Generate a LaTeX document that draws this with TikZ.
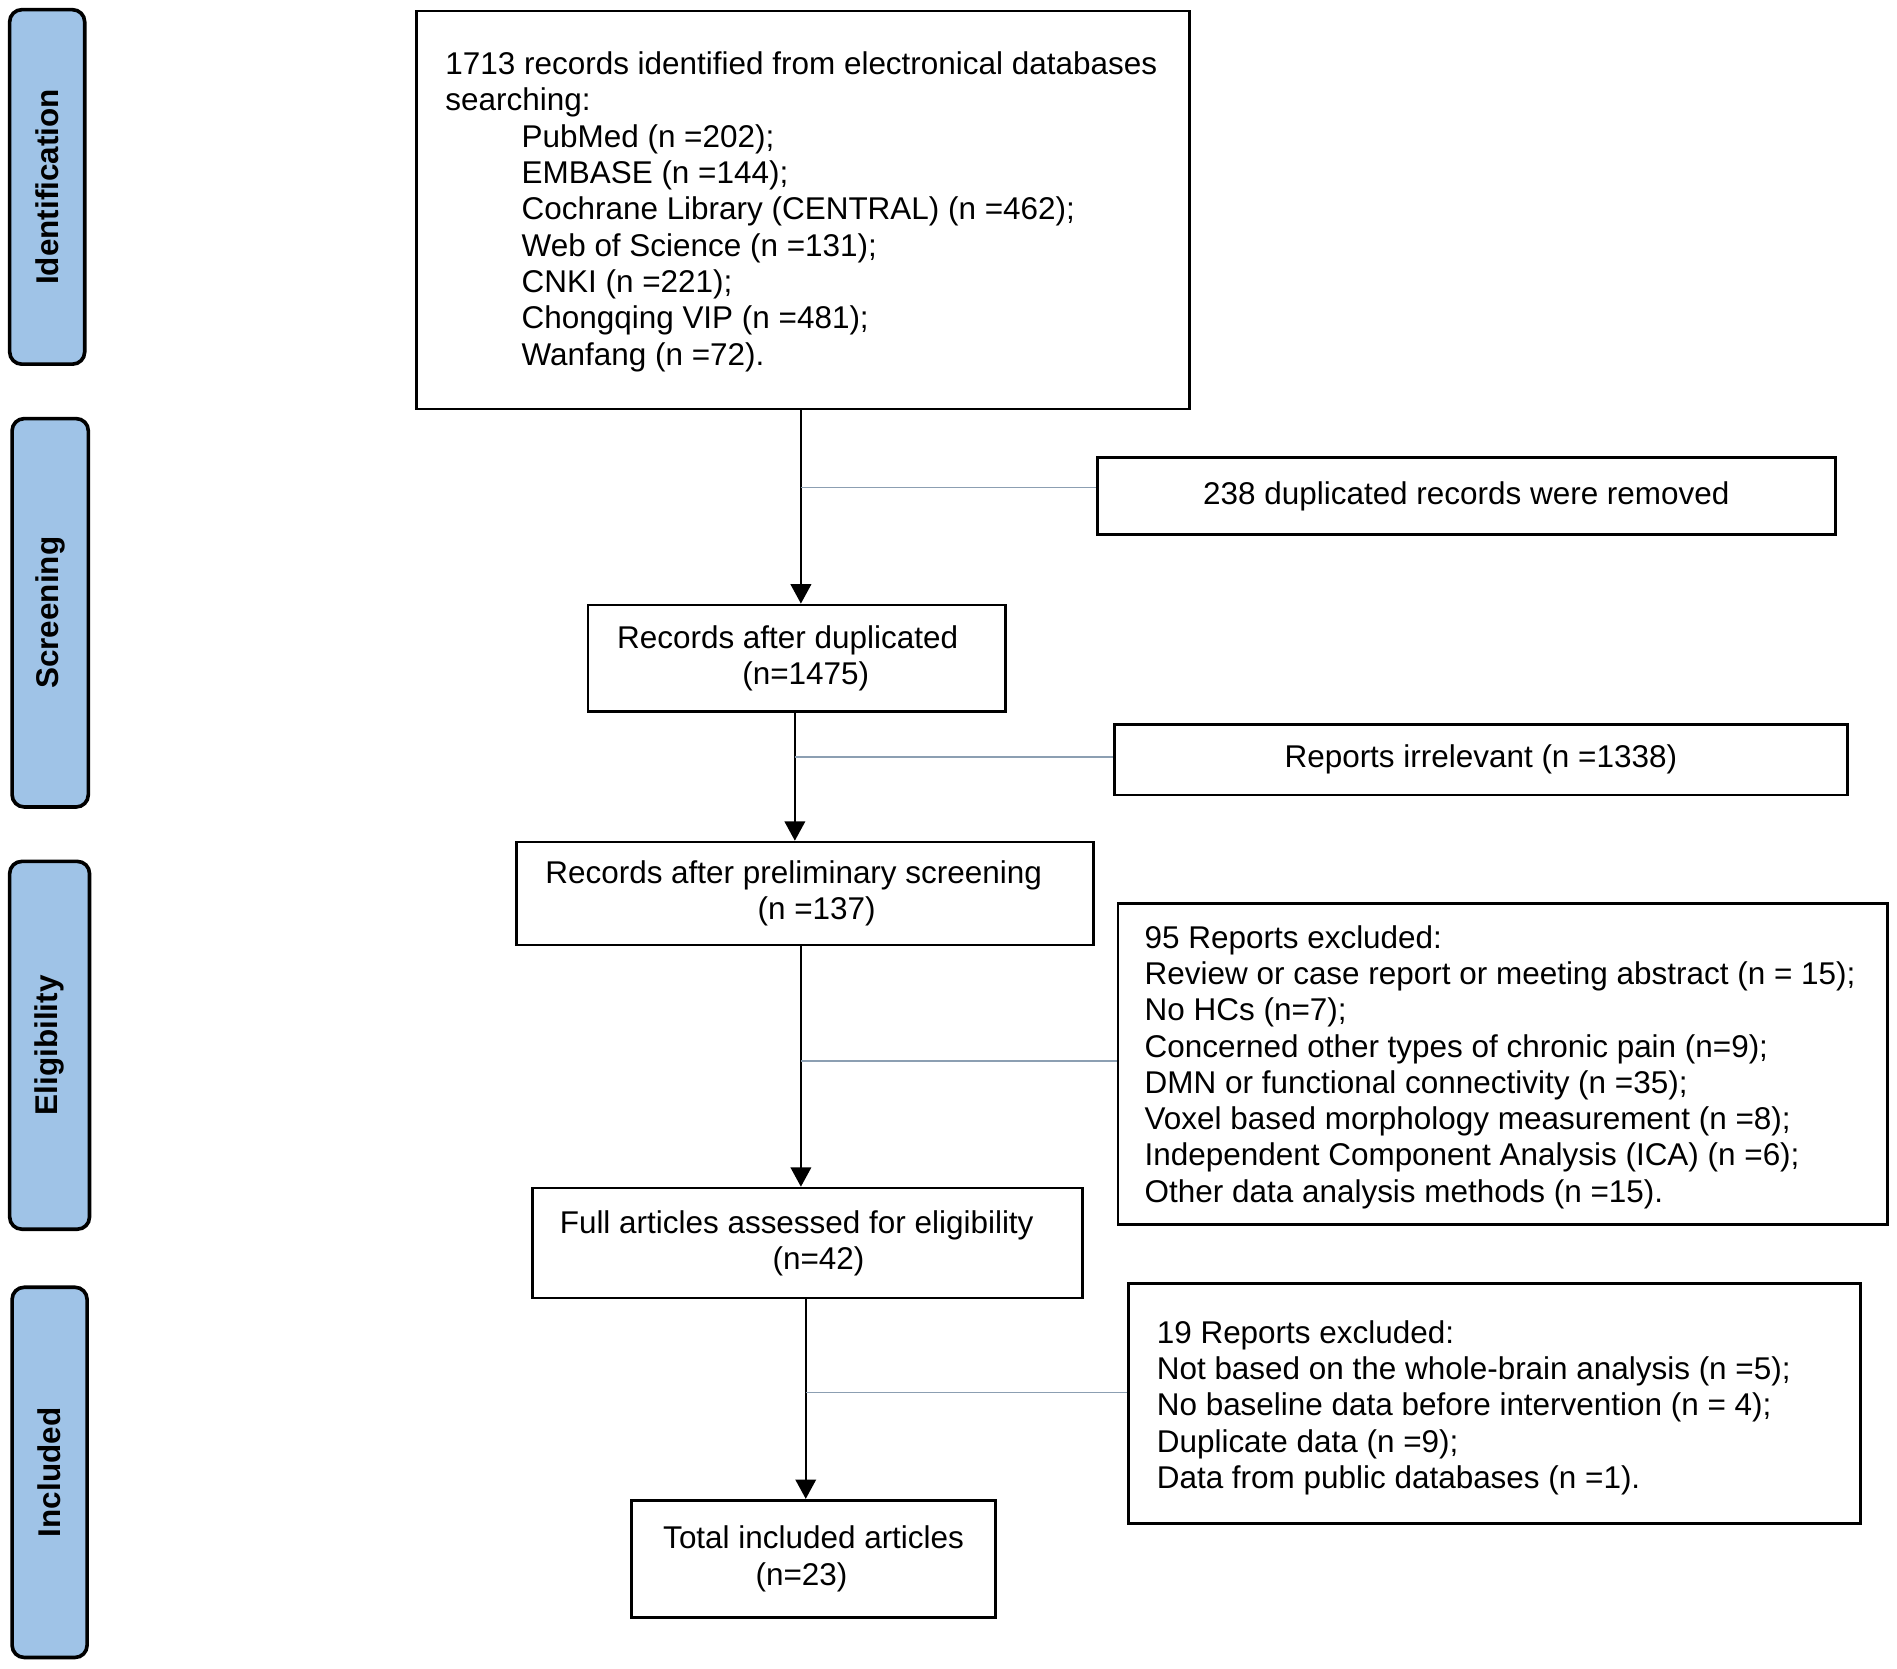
\documentclass[tikz,border=0pt]{standalone}
\usepackage{fontspec}
\setmainfont{Liberation Sans}
\usetikzlibrary{arrows.meta}
\definecolor{phase}{HTML}{9FC3E7}
\definecolor{conn}{HTML}{8C9FB2}
\begin{document}
\begin{tikzpicture}[x=1pt,y=-1pt,
  font=\fontsize{26}{30}\selectfont,
  box/.style={draw=black, line width=2.2pt, inner sep=0pt, align=center, rectangle},
  phasebox/.style={draw=black, fill=phase, line width=3pt, rounded corners=10pt, inner sep=0pt, rectangle},
  phasetext/.style={font=\fontsize{26}{30}\selectfont\bfseries, rotate=90, inner sep=0pt},
  flow/.style={line width=1.6pt, -{Triangle[width=17pt,length=16pt]}},
  side/.style={draw=conn, line width=1.5pt},
  txt/.style={inner sep=0pt, align=left, anchor=west}]
\useasboundingbox (0,0) rectangle (1568,1379);

% phase boxes
\node[phasebox, minimum width=62pt, minimum height=293pt] (pid) at (39,154.5) {};
\node[phasetext] (tid) at (pid.center) {Identification};
\node[phasebox, minimum width=63pt, minimum height=321pt] (psc) at (41.5,506.5) {};
\node[phasetext] (tsc) at (psc.center) {Screening};
\node[phasebox, minimum width=66pt, minimum height=304pt] (pel) at (41,864) {};
\node[phasetext] (tel) at (pel.center) {Eligibility};
\node[phasebox, minimum width=62pt, minimum height=306pt] (pin) at (41,1217) {};
\node[phasetext] (tin) at (pin.center) {Included};

% main boxes
\node[box, minimum width=639pt, minimum height=329pt] (b1) at (663.5,173.5) {};
\node[txt] (t1) at (368,175) {1713 records identified from electronical databases\\
searching:\\
\hspace*{63pt}PubMed (n =202);\\
\hspace*{63pt}EMBASE (n =144);\\
\hspace*{63pt}Cochrane Library (CENTRAL) (n =462);\\
\hspace*{63pt}Web of Science (n =131);\\
\hspace*{63pt}CNKI (n =221);\\
\hspace*{63pt}Chongqing VIP (n =481);\\
\hspace*{63pt}Wanfang (n =72).};

\node[box, minimum width=610pt, minimum height=64pt] (b2) at (1212,410) {238 duplicated records were removed};

\node[box, minimum width=345pt, minimum height=88pt] (b3) at (658.5,544)
  {Records after duplicated\rule{15pt}{0pt}\\\rule{15pt}{0pt}(n=1475)};

\node[box, minimum width=606pt, minimum height=58pt] (b4) at (1224,628) {Reports irrelevant (n =1338)};

\node[box, minimum width=477pt, minimum height=85pt] (b5) at (665.5,738.5)
  {Records after preliminary screening\rule{19pt}{0pt}\\\rule{19pt}{0pt}(n =137)};

\node[box, minimum width=636pt, minimum height=265pt] (b6) at (1242,879.5) {};
\node[txt] (t6) at (946,882) {95 Reports excluded:\\
Review or case report or meeting abstract (n = 15);\\
No HCs (n=7);\\
Concerned other types of chronic pain (n=9);\\
DMN or functional connectivity (n =35);\\
Voxel based morphology measurement (n =8);\\
Independent Component Analysis (ICA) (n =6);\\
Other data analysis methods (n =15).};

\node[box, minimum width=455pt, minimum height=91pt] (b7) at (667.5,1027.5)
  {Full articles assessed for eligibility\rule{18pt}{0pt}\\\rule{18pt}{0pt}(n=42)};

\node[box, minimum width=605pt, minimum height=198pt] (b8) at (1235.5,1160) {};
\node[txt] (t8) at (956,1163.5) {19 Reports excluded:\\
Not based on the whole-brain analysis (n =5);\\
No baseline data before intervention (n = 4);\\
Duplicate data (n =9);\\
Data from public databases (n =1).};

\node[box, minimum width=301pt, minimum height=97pt] (b9) at (672.5,1288.5)
  {Total included articles\\(n=23)\rule{20pt}{0pt}};

% flow arrows
\path ([xshift=-1.5pt]b1.south) coordinate (s1);
\path ([xshift=-1.5pt]b3.south) coordinate (s3);
\path ([xshift=-3.5pt]b5.south) coordinate (s5);
\path ([xshift=-1.5pt]b7.south) coordinate (s7);
\draw[flow] (s1) -- (s1 |- b3.north);
\draw[flow] (s3) -- (s3 |- b5.north);
\draw[flow] (s5) -- (s5 |- b7.north);
\draw[flow] (s7) -- (s7 |- b9.north);

% side connectors
\draw[side] (s1 |- 0,403) -- (b2.west |- 0,403);
\draw[side] (s3 |- 0,626) -- (b4.west |- 0,626);
\draw[side] (s5 |- 0,877) -- (b6.west |- 0,877);
\draw[side] (s7 |- 0,1151) -- (b8.west |- 0,1151);
\end{tikzpicture}
\end{document}
